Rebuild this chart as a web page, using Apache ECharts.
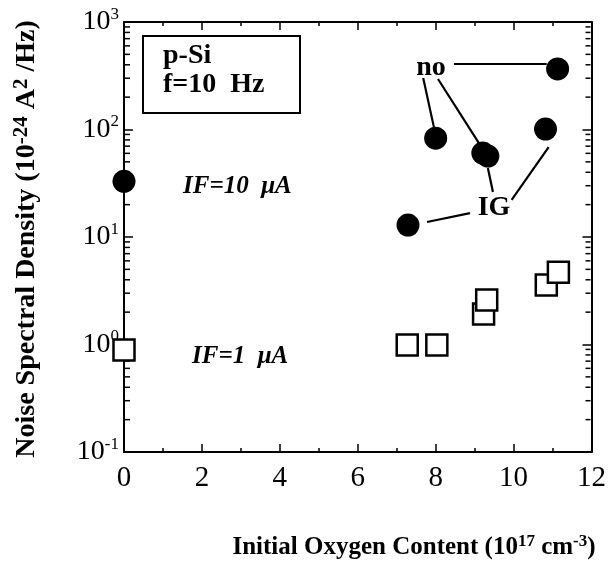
<!DOCTYPE html>
<html><head><meta charset="utf-8">
<script src="https://cdn.jsdelivr.net/npm/echarts@6/dist/echarts.min.js"></script>
<style>html,body{margin:0;padding:0;background:#fff}#c{width:609px;height:563px}</style>
</head><body><div id="c"></div>
<script>
// ---- data ----
const xTickValues = [0, 2, 4, 6, 8, 10, 12];
const yExponents = [-1, 0, 1, 2, 3];
const yMinorMultipliers = [2, 3, 4, 5, 6, 7, 8, 9];
// IF = 10 uA (filled circles)
const circleX = [0, 7.29, 8.0, 9.21, 9.34, 10.82, 11.13];
const circleY = [33, 12.9, 83, 60.4, 56.6, 101, 366];
// IF = 1 uA (open squares)
const squareX = [0, 7.27, 8.03, 9.23, 9.31, 10.84, 11.15];
const squareY = [0.89, 0.99, 0.99, 1.92, 2.6, 3.57, 4.7];
// annotation connector segments [x1, y1, x2, y2] in data units
const connectors = [
  [8.47, 406, 10.85, 406],
  [7.68, 301, 7.96, 103],
  [8.06, 295, 9.11, 74.8],
  [9.34, 43.9, 9.47, 26.2],
  [9.95, 22.1, 10.90, 68.7],
  [7.78, 13.8, 8.88, 16.7]
];

const FONT = 'Liberation Serif';
const xMin = xTickValues[0], xMax = xTickValues[xTickValues.length - 1];
const minorVals = [];
yExponents.slice(0, -1).forEach(e => yMinorMultipliers.forEach(m => minorVals.push(m * Math.pow(10, e))));

const chart = echarts.init(document.getElementById('c'));
const axisLine = { show: true, onZero: false, lineStyle: { color: '#000', width: 2 } };
const xAxisCommon = {
  type: 'value', min: xMin, max: xMax, interval: 2,
  axisLine, splitLine: { show: false },
  axisTick: { show: true, inside: true, length: 8, lineStyle: { color: '#000', width: 1.5 } },
  minorTick: { show: true, splitNumber: 2, length: 4, lineStyle: { color: '#000', width: 1.5 } },
  minorSplitLine: { show: false }
};
const yAxisCommon = {
  type: 'log', logBase: 10, min: Math.pow(10, yExponents[0]), max: Math.pow(10, yExponents[yExponents.length - 1]),
  axisLine, splitLine: { show: false },
  axisTick: { show: true, inside: true, length: 9, lineStyle: { color: '#000', width: 1.5 } }
};
const minorTickSeries = (xv, off) => ({
  type: 'scatter', silent: true, clip: false, z: 2,
  symbol: 'rect', symbolSize: [5, 1.5], symbolOffset: [off, 0],
  itemStyle: { color: '#000', opacity: 1 },
  data: minorVals.map(v => [xv, v])
});

chart.setOption({
  animation: false,
  backgroundColor: '#fff',
  grid: { left: 124, right: 16, top: 22, bottom: 111 },
  xAxis: [
    Object.assign({}, xAxisCommon, { position: 'bottom',
      axisLabel: { color: '#000', fontFamily: FONT, fontSize: 29, margin: 12 } }),
    Object.assign({}, xAxisCommon, { position: 'top', axisLabel: { show: false } })
  ],
  yAxis: [
    Object.assign({}, yAxisCommon, { position: 'left',
      axisLabel: {
        margin: 5,
        formatter: v => '{b|10}{s|' + Math.round(Math.log10(v)) + '}',
        rich: {
          b: { fontFamily: FONT, fontSize: 28, color: '#000', lineHeight: 32 },
          s: { fontFamily: FONT, fontSize: 17, color: '#000', lineHeight: 17, verticalAlign: 'top' }
        }
      } }),
    Object.assign({}, yAxisCommon, { position: 'right', axisLabel: { show: false } })
  ],
  series: [
    minorTickSeries(xMin, 3.5),
    minorTickSeries(xMax, -3.5),
    {
      name: 'IF=10 uA', type: 'scatter', z: 3,
      symbol: 'circle', symbolSize: 23,
      itemStyle: { color: '#000', opacity: 1 },
      data: circleX.map((x, i) => [x, circleY[i]]),
      markLine: {
        silent: true, symbol: 'none', label: { show: false },
        lineStyle: { color: '#000', width: 2.2, type: 'solid', opacity: 1 },
        data: connectors.map(c => [{ coord: [c[0], c[1]] }, { coord: [c[2], c[3]] }])
      }
    },
    {
      name: 'IF=1 uA', type: 'scatter', z: 4,
      symbol: 'rect', symbolSize: 21,
      itemStyle: { color: '#fff', borderColor: '#000', borderWidth: 2.5, opacity: 1 },
      data: squareX.map((x, i) => [x, squareY[i]])
    }
  ],
  graphic: [
    { type: 'rect', shape: { x: 143, y: 36, width: 157, height: 77 }, style: { fill: 'none', stroke: '#000', lineWidth: 2 }, z: 10 },
    { type: 'text', x: 163, y: 56, style: { text: 'p-Si', font: 'bold 28px "Liberation Serif"', fill: '#000', verticalAlign: 'middle' }, z: 10 },
    { type: 'text', x: 163, y: 85, style: { text: 'f=10  Hz', font: 'bold 28px "Liberation Serif"', fill: '#000', verticalAlign: 'middle' }, z: 10 },
    { type: 'text', x: 431, y: 68, style: { text: 'no', font: 'bold 28px "Liberation Serif"', fill: '#000', align: 'center', verticalAlign: 'middle' }, z: 10 },
    { type: 'text', x: 494, y: 208, style: { text: 'IG', font: 'bold 28px "Liberation Serif"', fill: '#000', align: 'center', verticalAlign: 'middle' }, z: 10 },
    { type: 'text', x: 183, y: 187, style: { text: 'IF=10  μA', font: 'italic bold 25px "Liberation Serif"', fill: '#000', verticalAlign: 'middle' }, z: 10 },
    { type: 'text', x: 192, y: 357, style: { text: 'IF=1  μA', font: 'italic bold 25px "Liberation Serif"', fill: '#000', verticalAlign: 'middle' }, z: 10 },
    { type: 'text', x: 414, y: 548, z: 10, style: {
      text: '{t|Initial Oxygen Content (10}{s|17}{t| cm}{s|-3}{t|)}',
      align: 'center', verticalAlign: 'middle',
      rich: {
        t: { fontFamily: FONT, fontWeight: 'bold', fontSize: 25, fill: '#000', lineHeight: 30 },
        s: { fontFamily: FONT, fontWeight: 'bold', fontSize: 17, fill: '#000', lineHeight: 16, verticalAlign: 'top' }
      } } },
    { type: 'text', x: 27, y: 239, rotation: Math.PI / 2, z: 10, style: {
      text: '{t|Noise Spectral Density (10}{s|-24}{t| A}{s|2}{t| /Hz)}',
      align: 'center', verticalAlign: 'middle',
      rich: {
        t: { fontFamily: FONT, fontWeight: 'bold', fontSize: 28, fill: '#000', lineHeight: 32 },
        s: { fontFamily: FONT, fontWeight: 'bold', fontSize: 21, fill: '#000', lineHeight: 21, verticalAlign: 'top' }
      } } }
  ]
});
</script></body></html>
